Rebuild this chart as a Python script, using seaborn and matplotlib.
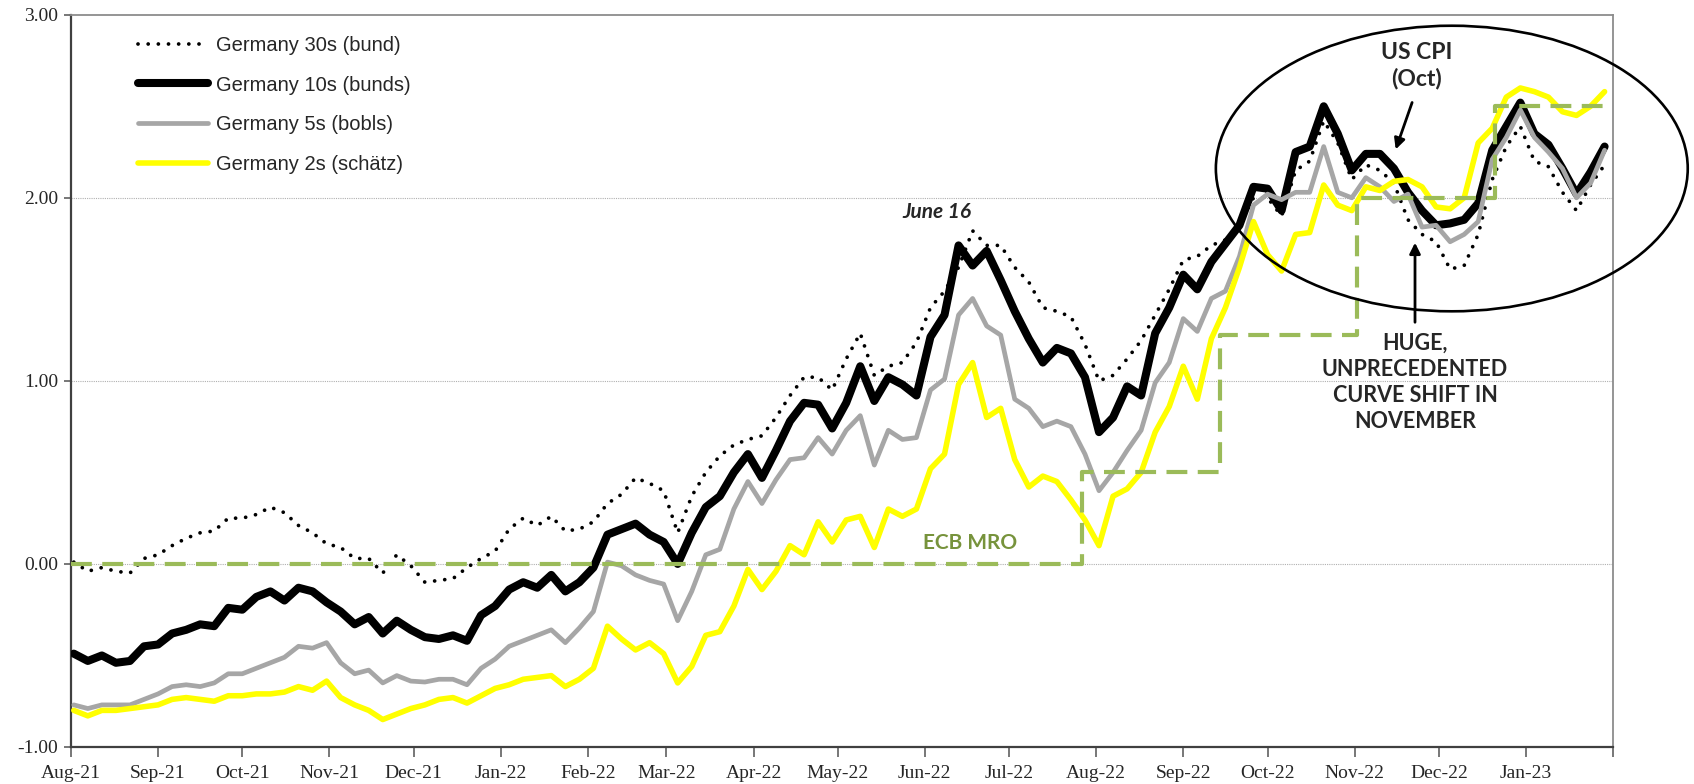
import numpy as np
import pandas as pd
import seaborn as sns
import matplotlib.pyplot as plt
import matplotlib.dates as mdates
from matplotlib.patches import Ellipse

# German government yields (%), sampled every 5 days from 2 Aug 2021
dates = pd.date_range('2021-08-02', periods=110, freq='5D')

bund30 = [0.01, -0.04, -0.02, -0.04, -0.05, 0.03, 0.05, 0.10, 0.14, 0.17,
          0.18, 0.25, 0.25, 0.27, 0.31, 0.28, 0.21, 0.17, 0.11, 0.09,
          0.03, 0.03, -0.05, 0.05, -0.01, -0.10, -0.09, -0.08, -0.02, 0.03,
          0.07, 0.19, 0.25, 0.21, 0.26, 0.18, 0.19, 0.23, 0.33, 0.38,
          0.47, 0.44, 0.40, 0.17, 0.37, 0.50, 0.59, 0.65, 0.68, 0.70,
          0.80, 0.92, 1.02, 1.02, 0.95, 1.12, 1.26, 1.03, 1.08, 1.10,
          1.21, 1.40, 1.49, 1.62, 1.82, 1.74, 1.74, 1.62, 1.54, 1.40,
          1.38, 1.35, 1.20, 1.00, 1.03, 1.12, 1.22, 1.36, 1.50, 1.66,
          1.68, 1.74, 1.77, 1.85, 2.00, 2.00, 1.90, 2.15, 2.20, 2.42,
          2.30, 2.10, 2.18, 2.15, 2.08, 1.88, 1.80, 1.76, 1.61, 1.63,
          1.80, 2.10, 2.28, 2.39, 2.20, 2.17, 2.03, 1.93, 2.07, 2.18]

bund10 = [-0.49, -0.53, -0.50, -0.54, -0.53, -0.45, -0.44, -0.38, -0.36, -0.33,
          -0.34, -0.24, -0.25, -0.18, -0.15, -0.20, -0.13, -0.15, -0.21, -0.26,
          -0.33, -0.29, -0.38, -0.31, -0.36, -0.40, -0.41, -0.39, -0.42, -0.28,
          -0.23, -0.14, -0.10, -0.13, -0.06, -0.15, -0.10, -0.02, 0.16, 0.19,
          0.22, 0.16, 0.12, 0.00, 0.17, 0.31, 0.37, 0.50, 0.60, 0.47,
          0.62, 0.78, 0.88, 0.87, 0.74, 0.88, 1.08, 0.89, 1.02, 0.98,
          0.92, 1.24, 1.36, 1.74, 1.63, 1.71, 1.55, 1.38, 1.23, 1.10,
          1.18, 1.15, 1.02, 0.72, 0.80, 0.97, 0.92, 1.26, 1.40, 1.58,
          1.50, 1.65, 1.75, 1.85, 2.06, 2.05, 1.93, 2.25, 2.28, 2.50,
          2.35, 2.15, 2.24, 2.24, 2.16, 2.03, 1.93, 1.85, 1.86, 1.88,
          1.97, 2.26, 2.39, 2.52, 2.35, 2.29, 2.16, 2.02, 2.14, 2.28]

bobl5 = [-0.77, -0.79, -0.77, -0.77, -0.77, -0.74, -0.71, -0.67, -0.66, -0.67,
         -0.65, -0.60, -0.60, -0.57, -0.54, -0.51, -0.45, -0.46, -0.43, -0.54,
         -0.60, -0.58, -0.65, -0.61, -0.64, -0.645, -0.63, -0.63, -0.66, -0.57,
         -0.52, -0.45, -0.42, -0.39, -0.36, -0.43, -0.35, -0.26, 0.01, -0.01,
         -0.06, -0.09, -0.11, -0.31, -0.15, 0.05, 0.08, 0.30, 0.45, 0.33,
         0.46, 0.57, 0.58, 0.69, 0.60, 0.73, 0.81, 0.54, 0.73, 0.68,
         0.69, 0.95, 1.01, 1.36, 1.45, 1.30, 1.25, 0.90, 0.85, 0.75,
         0.78, 0.75, 0.60, 0.40, 0.50, 0.62, 0.73, 0.99, 1.10, 1.34,
         1.27, 1.45, 1.49, 1.68, 1.96, 2.02, 1.99, 2.03, 2.03, 2.28,
         2.03, 2.00, 2.11, 2.06, 1.98, 2.02, 1.84, 1.85, 1.76, 1.80,
         1.87, 2.21, 2.33, 2.48, 2.33, 2.25, 2.16, 2.00, 2.08, 2.26]

schatz2 = [-0.80, -0.83, -0.80, -0.80, -0.79, -0.78, -0.77, -0.74, -0.73, -0.74,
           -0.75, -0.72, -0.72, -0.71, -0.71, -0.70, -0.67, -0.69, -0.64, -0.73,
           -0.77, -0.80, -0.85, -0.82, -0.79, -0.77, -0.74, -0.73, -0.76, -0.72,
           -0.68, -0.66, -0.63, -0.62, -0.61, -0.67, -0.63, -0.57, -0.34, -0.41,
           -0.47, -0.43, -0.49, -0.65, -0.56, -0.39, -0.37, -0.23, -0.03, -0.14,
           -0.04, 0.10, 0.05, 0.23, 0.12, 0.24, 0.26, 0.09, 0.30, 0.26,
           0.30, 0.52, 0.60, 0.98, 1.10, 0.80, 0.85, 0.57, 0.42, 0.48,
           0.45, 0.35, 0.24, 0.10, 0.37, 0.41, 0.50, 0.72, 0.86, 1.08,
           0.90, 1.23, 1.40, 1.62, 1.87, 1.69, 1.60, 1.80, 1.81, 2.07,
           1.96, 1.93, 2.06, 2.04, 2.09, 2.10, 2.06, 1.95, 1.94, 2.00,
           2.30, 2.38, 2.55, 2.60, 2.58, 2.55, 2.47, 2.45, 2.50, 2.58]

# ECB main refinancing rate (step changes)
mro_dates = pd.to_datetime(['2021-08-01', '2022-07-27', '2022-09-14',
                            '2022-11-02', '2022-12-21', '2023-01-31'])
mro_rates = [0.0, 0.50, 1.25, 2.00, 2.50, 2.50]

sns.set_style('white')
plt.rcParams['font.family'] = ['Liberation Sans', 'DejaVu Sans']

fig = plt.figure(figsize=(16.94, 7.84), dpi=100)
ax = fig.add_axes([0.0419, 0.0472, 0.9103, 0.9340])

for lvl in [0, 1, 2]:
    ax.axhline(lvl, color='#b0b0b0', lw=0.8, ls=(0, (1, 1)), zorder=1)

sns.lineplot(x=dates, y=bund30, ax=ax, color='black', lw=2.7,
             linestyle=(0, (0.01, 2.7)), dash_capstyle='round', zorder=2,
             label='Germany 30s (bund)')
sns.lineplot(x=dates, y=bund10, ax=ax, color='black', lw=5.8, zorder=3,
             label='Germany 10s (bunds)', solid_joinstyle='round', solid_capstyle='round')
sns.lineplot(x=dates, y=bobl5, ax=ax, color='#a6a6a6', lw=3.4, zorder=4,
             label='Germany 5s (bobls)', solid_capstyle='round')
sns.lineplot(x=dates, y=schatz2, ax=ax, color='#ffff00', lw=4.0, zorder=5,
             label='Germany 2s (schätz)', solid_capstyle='round')
sns.lineplot(x=mro_dates, y=mro_rates, ax=ax, color='#9bbb59', lw=3.0,
             drawstyle='steps-post', linestyle=(0, (5, 2.5)), zorder=6)

handles, labels = ax.get_legend_handles_labels()
ax.legend(handles[:4], labels[:4], loc='upper left', bbox_to_anchor=(0.038, 0.982),
          frameon=False, fontsize=14.5, handlelength=3.5, handletextpad=0.4,
          labelspacing=1.02, borderaxespad=0)

ax.set_xlim(pd.Timestamp('2021-08-01'), pd.Timestamp('2023-02-01'))
ax.set_ylim(-1, 3)
ax.set_yticks([-1, 0, 1, 2, 3])
ax.set_yticklabels(['%.2f' % v for v in [-1, 0, 1, 2, 3]],
                   fontfamily='Liberation Serif', fontsize=14)
months = pd.date_range('2021-08-01', '2023-02-01', freq='MS')
ax.set_xticks(months)
ax.set_xticklabels([m.strftime('%b-%y') if m < pd.Timestamp('2023-02-01') else ''
                    for m in months], fontfamily='Liberation Serif', fontsize=14)
ax.tick_params(axis='x', direction='out', length=7, width=1.2, color='#606060', pad=6,
               bottom=True)
ax.tick_params(axis='y', direction='out', length=5, width=1.2, color='#606060', pad=4,
               left=True)
ax.set_xlabel('')
ax.set_ylabel('')

for side in ['left', 'bottom']:
    ax.spines[side].set_color('#404040')
    ax.spines[side].set_linewidth(1.6)
for side in ['top', 'right']:
    ax.spines[side].set_color('#8c8c8c')
    ax.spines[side].set_linewidth(1.3)

# annotations
start = mdates.date2num(pd.Timestamp('2021-08-01'))
ell = Ellipse((start + 491.6, 2.16), width=168, height=1.56, fill=False,
              edgecolor='black', lw=1.9, clip_on=False, zorder=7)
ax.add_patch(ell)

bold = dict(fontfamily=['Lato', 'DejaVu Sans'], fontweight='bold')
ax.text(start + 308.3, 1.92, 'June 16', ha='center', va='center', fontsize=15,
        fontstyle='italic', **bold)
ax.text(start + 320, 0.115, 'ECB MRO', ha='center', va='center', fontsize=15,
        color='#77933c', **bold)
ax.text(start + 479.2, 2.72, 'US CPI\n(Oct)', ha='center', va='center', fontsize=16.5,
        linespacing=1.25, **bold)
ax.annotate('', xy=(start + 471.3, 2.25), xytext=(start + 477.8, 2.535),
            arrowprops=dict(arrowstyle='-|>', color='black', lw=2, mutation_scale=16))
ax.text(start + 478.5, 0.99, 'HUGE,\nUNPRECEDENTED\nCURVE SHIFT IN\nNOVEMBER',
        ha='center', va='center', fontsize=15.5, linespacing=1.3, **bold)
ax.annotate('', xy=(start + 478.5, 1.77), xytext=(start + 478.5, 1.305),
            arrowprops=dict(arrowstyle='-|>', color='black', lw=2, mutation_scale=16))

fig.savefig('out.png', dpi=100)
